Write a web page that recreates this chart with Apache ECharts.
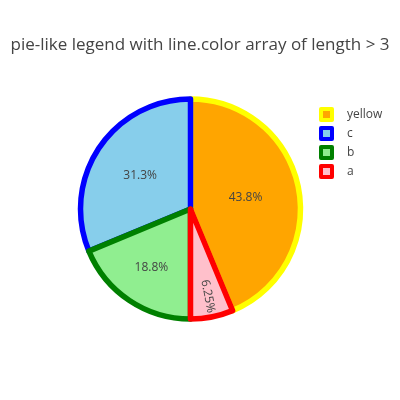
<!DOCTYPE html>
<html>
<head>
<meta charset="utf-8">
<script src="https://cdn.jsdelivr.net/npm/echarts@6/dist/echarts.min.js"></script>
<style>
  html, body { margin: 0; padding: 0; background: #fff; }
  #chart { width: 400px; height: 400px; }
</style>
</head>
<body>
<div id="chart"></div>
<script>
// 数据 (排序后的顺序, 与图例一致)
const labels = ['yellow', 'c', 'b', 'a'];
const values = [7, 5, 3, 1];
const fillColors = ['orange', 'skyblue', 'lightgreen', 'pink'];
const lineColors = ['yellow', 'blue', 'green', 'red'];
// 扇区内文字离圆心的距离 (占半径的比例)
const labelRadius = [0.51, 0.55, 0.64, 0.81];

const total = values.reduce((s, v) => s + v, 0);
const center = [190.5, 209];
const radius = 110;
const startAngle = -67.5;

// 每个扇区中线的角度 (逆时针, 从 3 点钟方向算)
const midAngles = [];
let acc = 0;
values.forEach((v) => {
    midAngles.push(startAngle + 360 * (acc + v / 2) / total);
    acc += v;
});

const pieData = labels.map((name, i) => {
    const item = {
        name: name,
        value: values[i],
        itemStyle: {
            color: fillColors[i],
            borderColor: lineColors[i],
            borderWidth: 5.5
        }
    };
    // 最小的扇区文字沿半径方向旋转
    if (values[i] / total < 0.1) {
        item.label = { rotate: 'radial' };
    }
    return item;
});

const chart = echarts.init(document.getElementById('chart'));
chart.setOption({
    backgroundColor: '#fff',
    animation: false,
    title: {
        text: 'pie-like legend with line.color array of length > 3',
        left: 'center',
        top: 32,
        textStyle: {
            fontFamily: 'Open Sans',
            fontSize: 17,
            fontWeight: 'normal',
            color: '#444'
        }
    },
    legend: {
        orient: 'vertical',
        left: 314,
        top: 102,
        itemWidth: 11,
        itemHeight: 11,
        itemGap: 4,
        icon: 'rect',
        data: labels,
        itemStyle: { borderWidth: 4 },
        textStyle: {
            fontFamily: 'Open Sans',
            fontSize: 12,
            color: '#444',
            padding: [0, 0, 0, 10]
        }
    },
    series: [{
        type: 'pie',
        center: center,
        radius: radius,
        startAngle: startAngle,
        clockwise: false,
        avoidLabelOverlap: false,
        label: {
            show: true,
            position: 'inside',
            formatter: (p) => {
                const pct = p.value / total * 100;
                return Number(pct.toPrecision(3)) + '%';
            },
            fontFamily: 'Open Sans',
            fontSize: 12,
            color: '#444'
        },
        labelLayout: (params) => {
            const i = params.dataIndex;
            const a = midAngles[i] * Math.PI / 180;
            const r = radius * labelRadius[i];
            return {
                x: center[0] + r * Math.cos(a),
                y: center[1] - r * Math.sin(a)
            };
        },
        labelLine: { show: false },
        emphasis: { disabled: true },
        data: pieData
    }]
});
</script>
</body>
</html>
